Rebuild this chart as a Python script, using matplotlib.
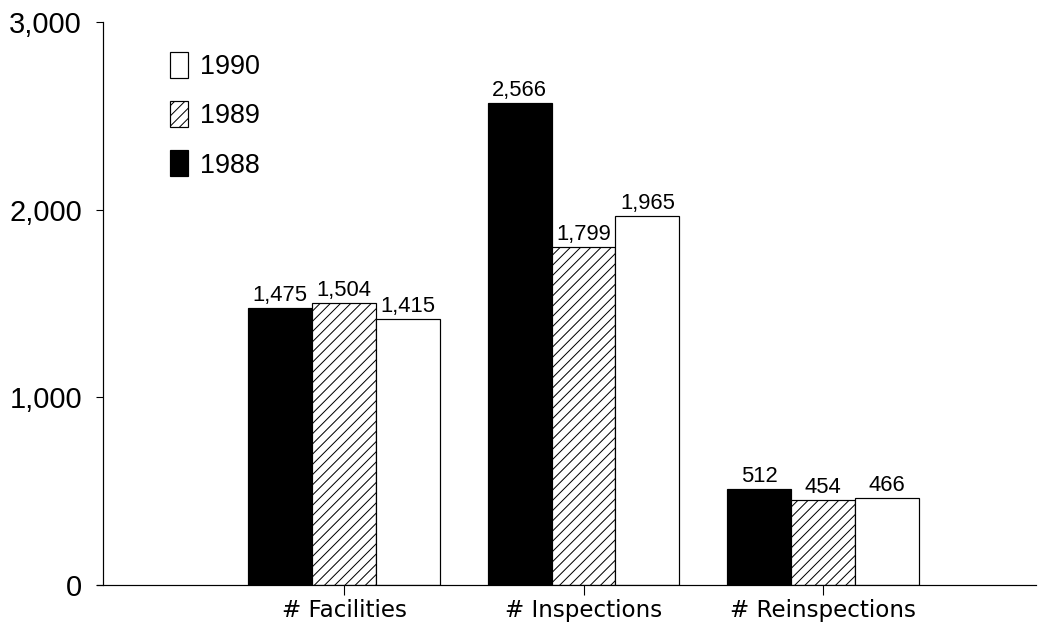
import matplotlib
matplotlib.use("Agg")
import matplotlib.pyplot as plt
import numpy as np

categories = ["# Facilities", "# Inspections", "# Reinspections"]
years = ["1988", "1989", "1990"]
vals_1988 = [1475, 2566, 512]
vals_1989 = [1504, 1799, 454]
vals_1990 = [1415, 1965, 466]
yticks = [0, 1000, 2000, 3000]

DPI = 92
W, H = 1049, 626


def px(v):
    # pixels -> points at this dpi
    return v * 72 / DPI


plt.rcParams['font.family'] = ['Liberation Sans', 'DejaVu Sans']
plt.rcParams['hatch.linewidth'] = px(1.0)

fig = plt.figure(figsize=(W / DPI, H / DPI), dpi=DPI)
ax = fig.add_axes([97 / W, 41 / H, 939 / W, 563 / H])

x = np.arange(len(categories))
bw = 0.267
series = [
    (years[0], vals_1988, 'black', None),
    (years[1], vals_1989, 'white', '///'),
    (years[2], vals_1990, 'white', None),
]
handles = []
for i, (yr, vals, fc, hatch) in enumerate(series):
    pos = x + (i - 1) * bw
    b = ax.bar(pos, vals, bw, color=fc, edgecolor='black', hatch=hatch,
               linewidth=px(1.2), label=yr)
    handles.append(b)
    for xp, v in zip(pos, vals):
        ax.annotate(f"{v:,}", (xp, v), xytext=(0, px(7)),
                    textcoords='offset points', ha='center', va='baseline',
                    fontsize=px(22))

ax.set_xlim((97 - 344) / 239.5, (1036 - 344) / 239.5)
ax.set_ylim(0, 3000)

for s in ['top', 'right']:
    ax.spines[s].set_visible(False)
ax.spines['left'].set_position(('data', (103 - 344) / 239.5))
ax.spines['left'].set_linewidth(px(1.2))
ax.spines['bottom'].set_linewidth(px(1.2))

ax.set_yticks(yticks)
ax.set_yticklabels([f"{t:,}" for t in yticks])
ax.tick_params(axis='y', direction='out', length=px(7), width=px(1.1),
               pad=px(14), labelsize=px(29))
ax.set_xticks(x)
ax.set_xticklabels(categories, family='DejaVu Sans', fontsize=px(23))
ax.tick_params(axis='x', direction='out', length=px(10), width=px(1.1),
               pad=px(4))

leg = ax.legend(handles[::-1], years[::-1], loc='upper left',
                bbox_to_anchor=(170 / W, 1 - 52 / H),
                bbox_transform=fig.transFigure, frameon=False,
                fontsize=px(27), handlelength=0.67, handleheight=1.1,
                handletextpad=0.45, labelspacing=0.78, borderpad=0,
                borderaxespad=0)

fig.savefig("out.png", dpi=DPI)
